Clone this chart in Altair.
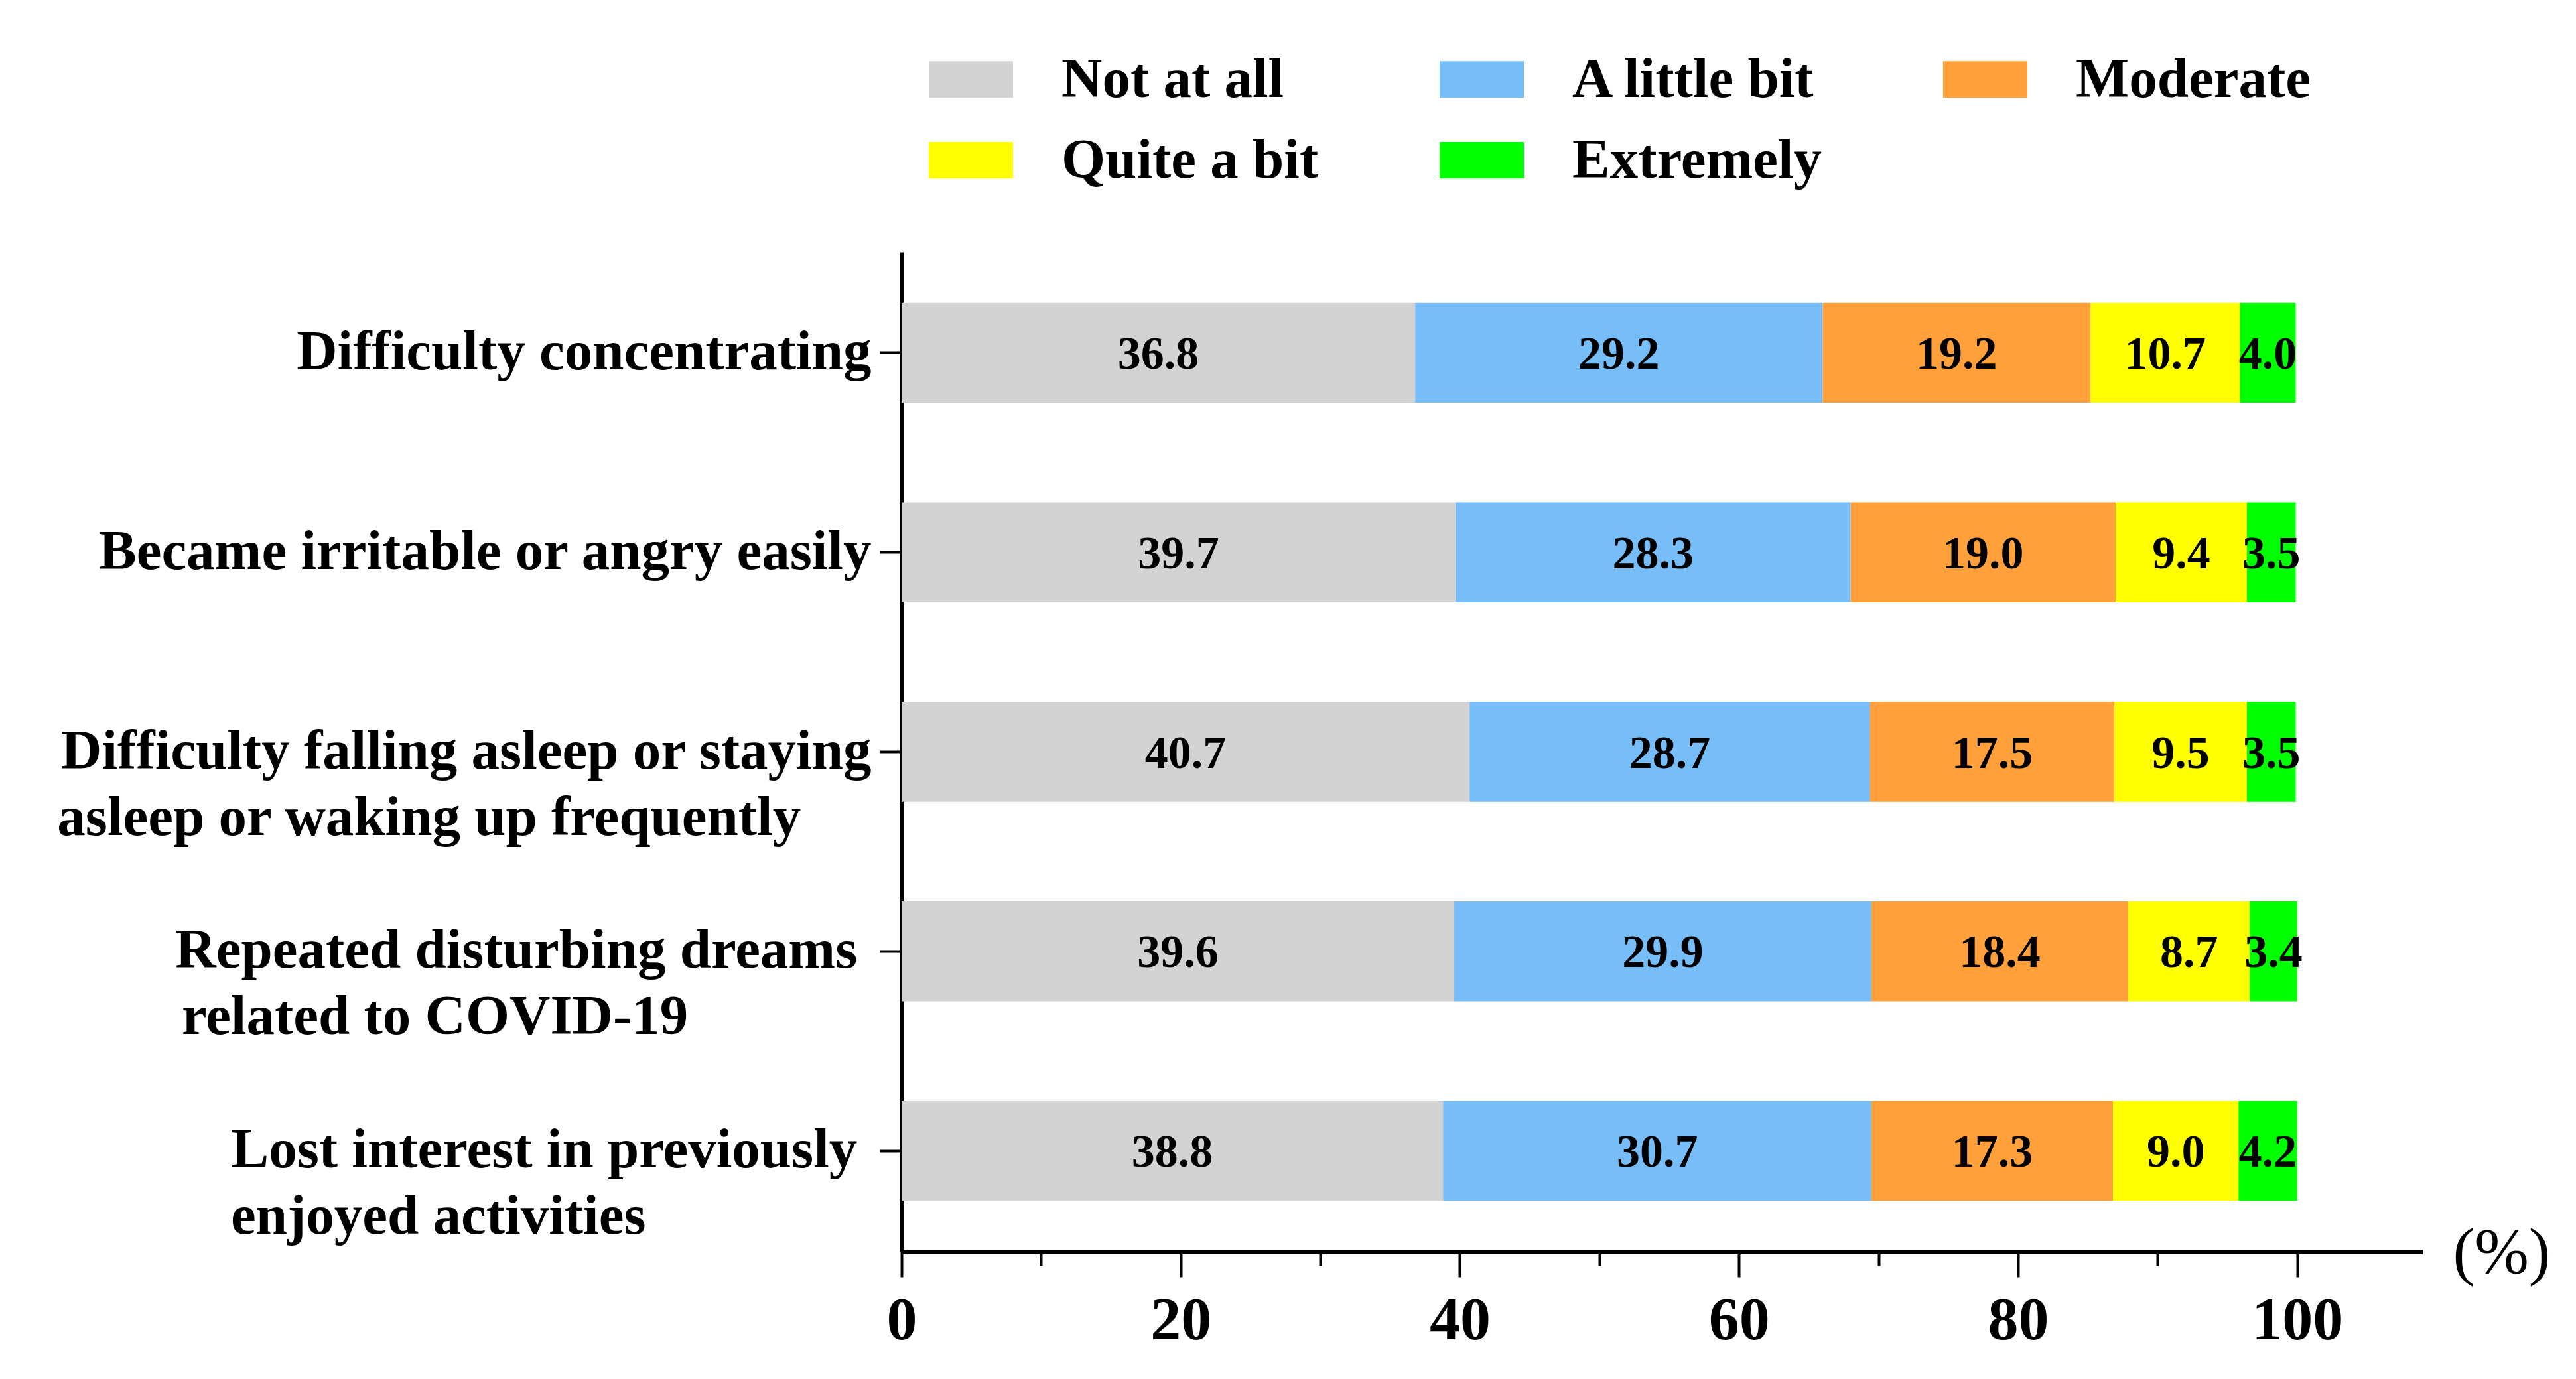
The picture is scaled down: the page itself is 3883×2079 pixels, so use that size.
import altair as alt
import pandas as pd

NB = "\u00a0"   # no-break space (padding)
WJ = "\u2060"   # word joiner keeps the padding from being trimmed
items = [
    "Difficulty concentrating",
    "Became irritable or angry easily",
    "Difficulty falling asleep or staying|asleep or waking up frequently" + NB * 5 + WJ,
    "Repeated disturbing dreams" + NB + WJ + "|related to COVID-19" + NB * 13 + WJ,
    "Lost interest in previously" + NB + WJ + "|enjoyed activities" + NB * 16 + WJ,
]
levels = ["Not at all", "A little bit", "Moderate", "Quite a bit", "Extremely"]
colors = ["#D3D3D3", "#77BEF9", "#FFA03A", "#FFFF00", "#00FF00"]

not_at_all = [36.8, 39.7, 40.7, 39.6, 38.8]
a_little_bit = [29.2, 28.3, 28.7, 29.9, 30.7]
moderate = [19.2, 19.0, 17.5, 18.4, 17.3]
quite_a_bit = [10.7, 9.4, 9.5, 8.7, 9.0]
extremely = [4.0, 3.5, 3.5, 3.4, 4.2]

x_ticks = [0, 10, 20, 30, 40, 50, 60, 70, 80, 90, 100]

series = [not_at_all, a_little_bit, moderate, quite_a_bit, extremely]
rows = []
for li, (lev, vals) in enumerate(zip(levels, series)):
    for item, v in zip(items, vals):
        rows.append({"item": item, "level": lev, "order": li, "value": v})
df = pd.DataFrame(rows)

FONT = "Liberation Serif"

base = alt.Chart(df).transform_stack(
    stack="value",
    groupby=["item"],
    sort=[alt.SortField("order", order="ascending")],
    as_=["x0", "x1"],
).transform_calculate(mid="(datum.x0 + datum.x1) / 2")

xscale = alt.Scale(domain=[0, 109], nice=False, zero=True)
yscale = alt.Scale(paddingInner=0.5, paddingOuter=0.255)

x_axis = alt.Axis(
    values=x_ticks,
    labelExpr="datum.value % 20 === 0 ? datum.label : ''",
    tickSize={"condition": {"test": "datum.value % 20 === 0", "value": 38}, "value": 21},
    tickWidth=4,
    tickColor="black",
    domainWidth=7,
    domainColor="black",
    labelFont=FONT,
    labelFontSize=92,
    labelFontWeight="bold",
    labelColor="black",
    labelPadding=20,
    labelOverlap=False,
    labelFlush=False,
    grid=False,
    title="(%)",
    titleX=2338,
    titleY=2,
    titleAlign="left",
    titleBaseline="middle",
    titleAngle=0,
    titleFont=FONT,
    titleFontSize=98,
    titleFontWeight="normal",
    titleColor="black",
)

y_axis = alt.Axis(
    title=None,
    labelExpr="split(datum.label, '|')",
    labelFont=FONT,
    labelFontSize=85,
    labelFontWeight="bold",
    labelColor="black",
    labelLimit=3000,
    labelPadding=13,
    labelBaseline="top",
    labelOffset=-42,
    labelLineHeight=100,
    tickSize=33,
    tickWidth=4,
    tickColor="black",
    domainWidth=5,
    domainColor="black",
    grid=False,
)

bars = base.mark_bar(strokeWidth=0).encode(
    x=alt.X("x0:Q", scale=xscale, axis=x_axis),
    x2="x1:Q",
    y=alt.Y("item:N", sort=items, scale=yscale, axis=y_axis),
    color=alt.Color(
        "level:N",
        scale=alt.Scale(domain=levels, range=colors),
        legend=alt.Legend(
            title=None,
            orient="none",
            legendX=41,
            legendY=-324,
            direction="horizontal",
            columns=3,
            symbolType="M-1,-0.433H1V0.433H-1Z",
            symbolSize=16129,
            symbolStrokeWidth=0,
            symbolOpacity=1,
            labelFont=FONT,
            labelFontSize=85,
            labelFontWeight="bold",
            labelColor="black",
            labelOffset=73,
            labelLimit=2000,
            columnPadding=182,
            rowPadding=15,
        ),
    ),
)

text = base.mark_text(
    font=FONT, fontSize=70, fontWeight="bold", color="black", baseline="middle", align="center", dy=3
).encode(
    x=alt.X("mid:Q", scale=xscale, axis=x_axis),
    y=alt.Y("item:N", sort=items, scale=yscale, axis=y_axis),
    text=alt.Text("value:Q", format=".1f"),
)

chart = alt.layer(bars, text).properties(
    width=2293,
    height=1507,
    autosize=alt.AutoSizeParams(type="none"),
    padding={"left": 1351, "top": 372, "right": 215, "bottom": 170},
    background="white",
).configure_view(stroke=None)

chart.save("out.html", embed_options={"renderer": "svg", "actions": False})
